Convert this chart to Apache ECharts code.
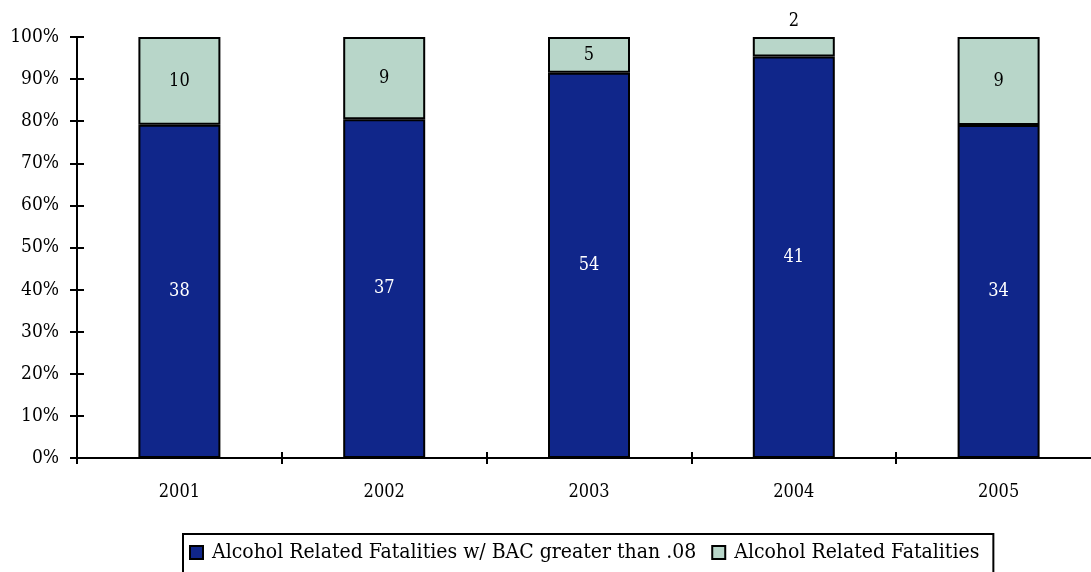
<!DOCTYPE html>
<html><head><meta charset="utf-8">
<script src="https://cdn.jsdelivr.net/npm/echarts@6/dist/echarts.min.js"></script>
<style>html,body{margin:0;padding:0;background:#fff}#c{width:1091px;height:572px}</style>
</head><body><div id="c"></div>
<script>
const categories = ['2001','2002','2003','2004','2005'];
const bacOver08 = [38, 37, 54, 41, 34];
const alcoholRelated = [10, 9, 5, 2, 9];
const yTickLabels = ['0%','10%','20%','30%','40%','50%','60%','70%','80%','90%','100%'];
const seriesNames = ['Alcohol Related Fatalities w/ BAC greater than .08', 'Alcohol Related Fatalities'];

const FONT = '"DejaVu Serif Condensed", "DejaVu Serif", serif';
const totals = categories.map((c,i)=>bacOver08[i]+alcoholRelated[i]);
const pct = (arr)=>arr.map((v,i)=>({value: v/totals[i]*100, raw: v}));

const bacData = pct(bacOver08);
const arData = pct(alcoholRelated).map(d=>{
  if (d.value < 7) d.label = {position:'top', distance: 7};
  return d;
});

const axisLine = {show:true, lineStyle:{color:'#000', width:2}};
const chart = echarts.init(document.getElementById('c'));
chart.setOption({
  animation:false,
  textStyle:{fontFamily:FONT},
  grid:{left:77, top:37, height:421, width:1024, containLabel:false, outerBoundsMode:'none'},
  legend:{
    left:183, top:534, width:850,
    padding:[8, 14, 20, 6],
    borderColor:'#000', borderWidth:2,
    itemWidth:13, itemHeight:13, itemGap:15,
    textStyle:{fontFamily:FONT, fontSize:21, color:'#000', padding:[0,0,0,4]},
    data:[
      {name:seriesNames[0], icon:'rect', itemStyle:{color:'#10268A', borderColor:'#000', borderWidth:2}},
      {name:seriesNames[1], icon:'rect', itemStyle:{color:'#B8D6C9', borderColor:'#000', borderWidth:2}}
    ]
  },
  xAxis:[
    {type:'category', data:categories, axisLine:axisLine,
     axisTick:{show:true, length:6, lineStyle:{color:'#000', width:2}},
     axisLabel:{fontFamily:FONT, fontSize:18, color:'#000', margin:25}},
    {type:'category', data:categories, position:'bottom', axisLine:{show:false},
     axisTick:{show:true, inside:true, length:6, lineStyle:{color:'#000', width:2}},
     axisLabel:{show:false}}
  ],
  yAxis:[
    {type:'value', min:0, max:100, interval:10, splitLine:{show:false}, axisLine:axisLine,
     axisTick:{show:true, length:7, lineStyle:{color:'#000', width:2}},
     axisLabel:{fontFamily:FONT, fontSize:19, color:'#000', margin:18,
       formatter:(v)=>yTickLabels[Math.round(v/10)]}},
    {type:'value', min:0, max:100, interval:10, splitLine:{show:false}, position:'left', axisLine:{show:false},
     axisTick:{show:true, inside:true, length:7, lineStyle:{color:'#000', width:2}},
     axisLabel:{show:false}}
  ],
  series:[
    {name:seriesNames[0], type:'bar', stack:'s', barWidth:82, data:bacData,
     itemStyle:{color:'#10268A', borderColor:'#000', borderWidth:2},
     label:{show:true, position:'inside', color:'#fff', fontFamily:FONT, fontSize:18,
       formatter:(p)=>p.data.raw}},
    {name:seriesNames[1], type:'bar', stack:'s', barWidth:82, data:arData,
     itemStyle:{color:'#B8D6C9', borderColor:'#000', borderWidth:2},
     label:{show:true, position:'inside', color:'#000', fontFamily:FONT, fontSize:18,
       formatter:(p)=>p.data.raw}}
  ]
});
</script></body></html>
